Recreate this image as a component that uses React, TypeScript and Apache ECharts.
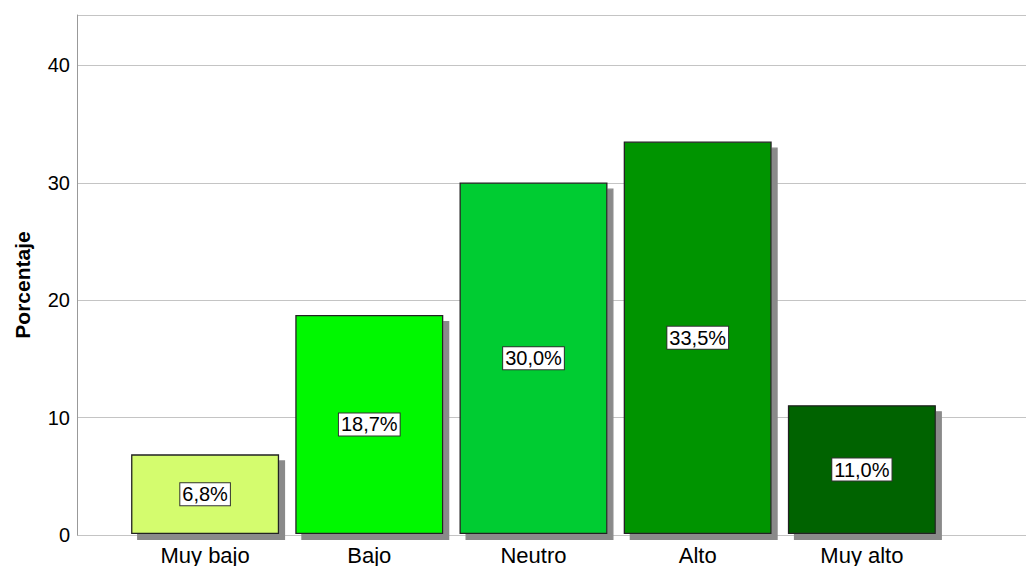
import React, { useEffect, useRef } from "react";
import * as echarts from "echarts";

const categories = ["Muy bajo", "Bajo", "Neutro", "Alto", "Muy alto"];
const percentages = [6.8, 18.7, 30.0, 33.5, 11.0];
const barColors = ["#d4fc6e", "#00f800", "#00cc33", "#009400", "#006400"];
const yTicks = [0, 10, 20, 30, 40];
const yName = "Porcentaje";

const FONT = "'Liberation Sans', Arial, sans-serif";

export default function App() {
  const ref = useRef<HTMLDivElement>(null);
  useEffect(() => {
    if (!ref.current) return;
    const chart = echarts.init(ref.current, null, { renderer: "svg" });
    const yMax = 44.3;
    chart.setOption({
      animation: false,
      backgroundColor: "#ffffff",
      textStyle: { fontFamily: FONT },
      grid: [
        { left: 77, right: 0, top: 15, bottom: 31 },
        { left: 123, width: 821, top: 15, bottom: 31 },
      ],
      graphic: [
        {
          type: "text",
          x: 22,
          y: 285,
          rotation: Math.PI / 2,
          style: {
            text: yName,
            fontSize: 21,
            fontWeight: "bold",
            fill: "#000",
            fontFamily: FONT,
            align: "center",
            verticalAlign: "middle",
          },
        },
      ],
      xAxis: [
        { gridIndex: 0, type: "value", min: 0, max: 1, show: false },
        {
          gridIndex: 1,
          type: "category",
          data: categories,
          axisLine: { show: false },
          axisTick: { show: false },
          axisLabel: {
            fontSize: 22,
            color: "#000",
            fontFamily: FONT,
            margin: 10,
            lineHeight: 22,
          },
        },
      ],
      yAxis: [
        {
          gridIndex: 0,
          type: "value",
          min: 0,
          max: yMax,
          interval: 10,
          axisLine: { show: true, lineStyle: { color: "#999", width: 1 } },
          axisTick: { show: false },
          splitLine: { show: true, lineStyle: { color: "#c4c4c4", width: 1 } },
          axisLabel: {
            fontSize: 20,
            color: "#000",
            fontFamily: FONT,
            margin: 7,
            showMaxLabel: false,
            formatter: (v: number) => (yTicks.includes(v) ? String(v) : ""),
          },
        },
        {
          gridIndex: 1,
          type: "value",
          min: 0,
          max: yMax,
          interval: 10,
          show: false,
          splitLine: { show: false },
        },
      ],
      series: [
        {
          type: "bar",
          xAxisIndex: 1,
          yAxisIndex: 1,
          barWidth: 148,
          data: percentages.map((v, i) => ({
            value: v,
            itemStyle: { color: barColors[i] },
          })),
          itemStyle: {
            borderColor: "#222",
            borderWidth: 1.3,
            shadowColor: "#8a8a8a",
            shadowOffsetX: 6,
            shadowOffsetY: 6,
            shadowBlur: 0,
          },
          label: {
            show: true,
            position: "inside",
            color: "#000",
            fontSize: 20,
            fontFamily: FONT,
            backgroundColor: "#fff",
            borderColor: "#333",
            borderWidth: 1,
            padding: [1, 2],
            formatter: (p: any) => p.value.toFixed(1).replace(".", ",") + "%",
          },
        },
      ],
    });
    return () => chart.dispose();
  }, []);
  return (
    <div
      ref={ref}
      style={{ position: "fixed", left: 0, top: 0, width: 1026, height: 566 }}
    />
  );
}
